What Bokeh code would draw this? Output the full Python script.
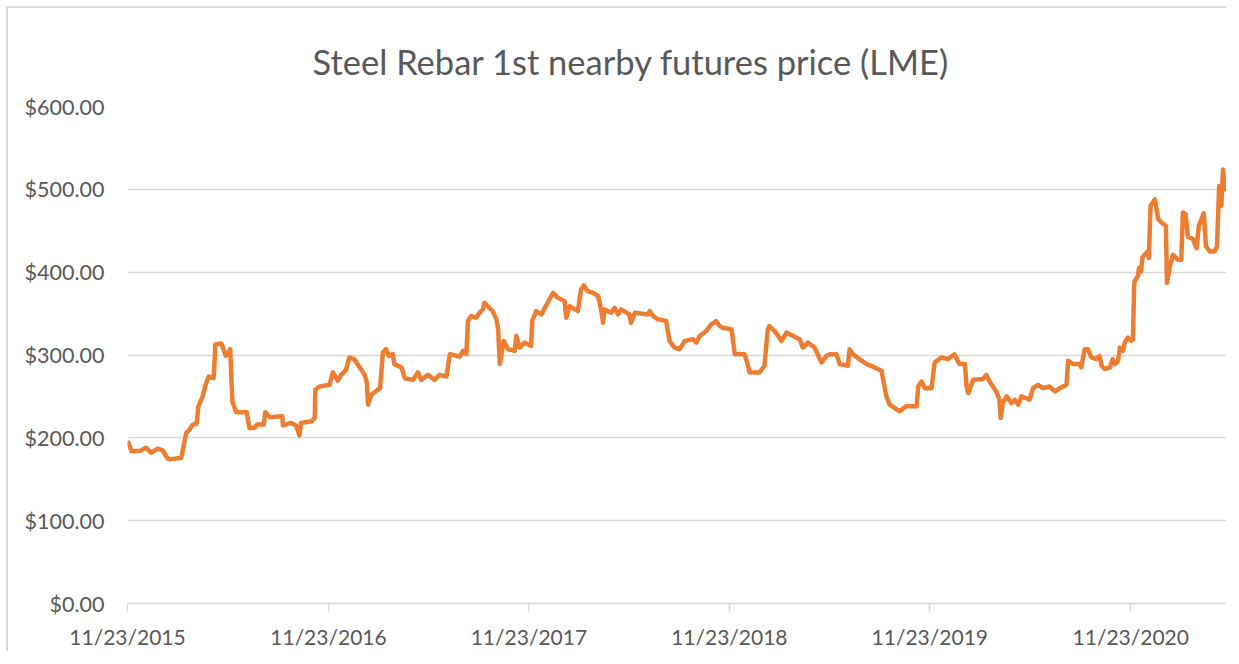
import numpy as np
import pandas as pd
from datetime import datetime
from bokeh.plotting import figure
from bokeh.models import (Range1d, FixedTicker, NumeralTickFormatter,
                          DatetimeTickFormatter, Title)
from bokeh.embed import file_html
from bokeh.resources import INLINE

# ---- data (days since 11/23/2015, price in USD) ----
start_date = "2015-11-23"
days = [0, 2, 7, 22, 34, 43, 55, 64, 73, 77, 98, 107, 113, 119, 126, 129, 137, 142, 148, 157,
        160, 171, 179, 187, 191, 198, 217, 222, 231, 236, 248, 251, 259, 282, 283, 298, 307, 313, 316, 335,
        341, 342, 350, 368, 374, 383, 389, 398, 404, 413, 423, 432, 436, 438, 444, 456, 460, 465, 471, 476,
        483, 486, 499, 505, 520, 529, 535, 547, 559, 568, 581, 587, 605, 611, 617, 620, 626, 635, 641, 647,
        650, 659, 665, 672, 675, 678, 685, 693, 705, 708, 714, 723, 735, 737, 744, 754, 760, 775, 784, 796,
        799, 805, 820, 826, 831, 838, 848, 857, 863, 866, 869, 881, 887, 893, 899, 914, 917, 924, 948, 951,
        957, 966, 981, 987, 996, 1005, 1015, 1030, 1036, 1042, 1054, 1063, 1072, 1078, 1084, 1100, 1106, 1124, 1130, 1133,
        1151, 1160, 1166, 1169, 1178, 1185, 1191, 1200, 1212, 1224, 1230, 1239, 1251, 1264, 1273, 1279, 1291, 1297, 1312, 1315,
        1321, 1333, 1346, 1361, 1373, 1382, 1388, 1406, 1418, 1437, 1440, 1446, 1452, 1464, 1470, 1482, 1494, 1506, 1515, 1525,
        1528, 1531, 1540, 1558, 1564, 1570, 1582, 1588, 1590, 1594, 1601, 1610, 1616, 1622, 1628, 1643, 1649, 1658, 1667, 1679,
        1689, 1698, 1710, 1713, 1722, 1734, 1737, 1743, 1749, 1755, 1764, 1770, 1774, 1780, 1789, 1794, 1798, 1804, 1807, 1813,
        1816, 1822, 1828, 1831, 1833, 1834, 1840, 1842, 1846, 1848, 1852, 1858, 1860, 1863, 1871, 1877, 1883, 1891, 1893, 1898,
        1904, 1913, 1919, 1922, 1927, 1931, 1940, 1947, 1951, 1960, 1964, 1971, 1980, 1984, 1988, 1992, 1995, 1998, 2001, 2003]
prices = [196, 194, 184, 184, 188, 182, 187, 185, 175, 174, 176, 206, 210, 216, 217, 238, 250, 264, 274, 272,
          313, 314, 299, 307, 244, 231, 231, 212, 212, 216, 216, 231, 225, 226, 215, 218, 215, 203, 218, 220,
          224, 258, 262, 264, 279, 269, 276, 282, 297, 295, 285, 276, 266, 240, 252, 258, 260, 303, 307, 299,
          301, 289, 285, 272, 270, 279, 270, 276, 270, 276, 274, 301, 298, 305, 301, 341, 347, 345, 351, 355,
          363, 357, 353, 343, 331, 289, 317, 307, 305, 323, 309, 315, 311, 341, 353, 349, 357, 375, 369, 365,
          345, 359, 353, 379, 384, 377, 375, 371, 353, 339, 355, 351, 357, 349, 355, 349, 339, 351, 349, 353,
          347, 343, 341, 317, 309, 307, 317, 319, 315, 323, 329, 337, 341, 335, 333, 331, 301, 301, 287, 279,
          279, 287, 331, 335, 329, 323, 317, 327, 323, 319, 309, 315, 309, 291, 299, 301, 301, 289, 287, 307,
          301, 295, 289, 285, 281, 250, 240, 232, 238, 238, 262, 268, 260, 260, 291, 297, 295, 301, 289, 289,
          262, 254, 270, 271, 276, 268, 256, 246, 224, 242, 250, 242, 246, 240, 250, 246, 260, 264, 260, 262,
          256, 260, 264, 293, 289, 289, 285, 307, 307, 297, 295, 299, 287, 283, 285, 295, 289, 293, 309, 305,
          315, 321, 317, 319, 379, 389, 395, 405, 401, 417, 421, 425, 417, 480, 488, 464, 460, 456, 387, 407,
          421, 415, 415, 472, 470, 443, 440, 429, 456, 471, 431, 425, 425, 431, 504, 480, 524, 500, 508, 500]

tick_dates = ["2015-11-23", "2016-11-23", "2017-11-23", "2018-11-23", "2019-11-23", "2020-11-23"]
y_ticks = [0, 100, 200, 300, 400, 500, 600]
title_text = "Steel Rebar 1st nearby futures price (LME)"

dates = np.datetime64(start_date) + np.array(days, dtype="timedelta64[D]")
tick_ms = [pd.Timestamp(d).value / 1e6 for d in tick_dates]

FONT = "Lato"
TXT = "#595959"
GRID = "#d9d9d9"

p = figure(width=1220, height=645, output_backend="svg", toolbar_location=None,
           x_axis_type="datetime",
           x_range=Range1d(datetime(2015, 11, 23), datetime(2021, 5, 20)),
           y_range=Range1d(0, 600),
           min_border_left=119, min_border_right=0, min_border_top=98, min_border_bottom=50)
p.margin = (6, 0, 0, 6)
p.border_fill_color = "white"
p.background_fill_color = "white"
p.outline_line_color = None
p.styles = {"border-left": "2px solid #d9d9d9", "border-top": "2px solid #d9d9d9"}

t = Title(text=title_text, text_font=FONT, text_font_size="34.5px", text_color=TXT,
          text_font_style="normal", align="left", offset=185, standoff=49)
p.add_layout(t, "above")

p.line(x=dates, y=prices, line_color="#ED7D31", line_width=4.5, line_join="round")

# y axis
p.yaxis.ticker = FixedTicker(ticks=y_ticks)
p.yaxis.formatter = NumeralTickFormatter(format="$0.00")
p.yaxis.axis_line_color = None
p.yaxis.major_tick_line_color = None
p.yaxis.minor_tick_line_color = None
p.yaxis.major_tick_out = 0
p.yaxis.major_tick_in = 0
p.yaxis.major_label_standoff = 23
p.yaxis.major_label_text_font = FONT
p.yaxis.major_label_text_font_size = "21.5px"
p.yaxis.major_label_text_color = TXT

# x axis
p.xaxis.ticker = FixedTicker(ticks=tick_ms)
fmt = "%m/%d/%Y"
p.xaxis.formatter = DatetimeTickFormatter(days=fmt, months=fmt, years=fmt, hours=fmt,
                                          hourmin=fmt, minutes=fmt, minsec=fmt, seconds=fmt,
                                          milliseconds=fmt, microseconds=fmt)
p.xaxis.axis_line_color = GRID
p.xaxis.axis_line_width = 1.5
p.xaxis.major_tick_line_color = GRID
p.xaxis.major_tick_line_width = 1.5
p.xaxis.minor_tick_line_color = None
p.xaxis.major_tick_out = 8
p.xaxis.major_tick_in = 0
p.xaxis.major_label_standoff = 12
p.xaxis.major_label_text_font = FONT
p.xaxis.major_label_text_font_size = "21px"
p.xaxis.major_label_text_color = TXT

p.xgrid.grid_line_color = None
p.ygrid.ticker = FixedTicker(ticks=y_ticks)
p.ygrid.grid_line_color = GRID
p.ygrid.grid_line_width = 1.5

open("out.html", "w").write(file_html(p, INLINE))
